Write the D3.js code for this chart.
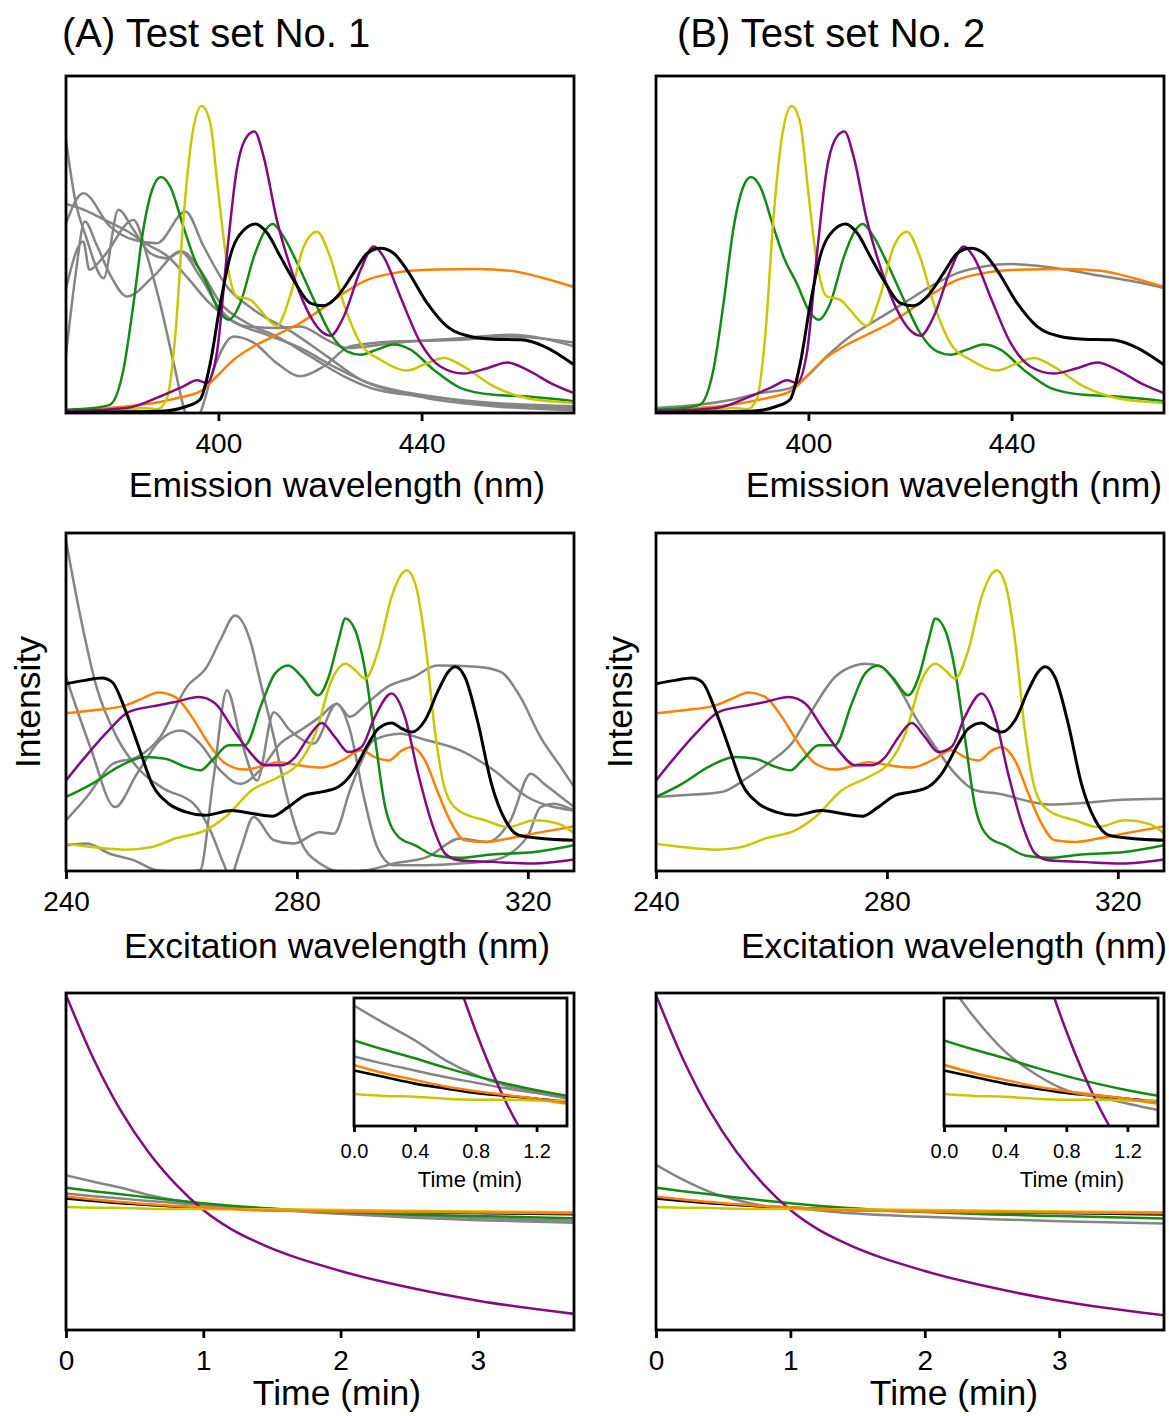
<!DOCTYPE html>
<html>
<head>
<meta charset="utf-8">
<script src="https://cdn.jsdelivr.net/npm/d3@7"></script>
<style>
body { margin: 0; background: #fff; }
text { font-family: "Liberation Sans", Arial, sans-serif; fill: #000; }
</style>
</head>
<body>
<svg width="1169" height="1416"></svg>
<script>
// emission spectra, [wavelength nm, intensity]
var emBlack = [[370,0.2],[388.5,0.5],[393.8,2.0],[396.4,4.0],[398.4,14.8],[400.4,32.6],[402.3,46.4],[405,54.3],[407.3,56.1],[409.6,53.4],[412.2,46.4],[414.8,39.5],[418.1,32.6],[420.7,31.8],[423.4,34.6],[426.6,41.5],[429.3,47.4],[431.9,48.9],[434.5,47.4],[437.1,42.5],[441.1,32.6],[445,25.7],[449.6,22.7],[454.2,21.9],[459.5,21.7],[464.1,19.8],[470,14.3]];
var emPurple = [[370,0.5],[382,1.5],[388.5,4.9],[393.1,7.9],[395.8,9.7],[397.7,8.9],[399.7,17.8],[401.7,47.4],[403.6,72.1],[405.6,82.0],[407.1,83.5],[408.9,76.1],[411.5,57.3],[414.8,40.5],[418.1,28.7],[420.7,23.7],[422,22.9],[424.7,28.7],[428,42.5],[430.6,49.4],[432.5,46.4],[435.8,34.6],[439.8,20.8],[443.7,13.8],[448.3,11.7],[452.9,13.3],[456.9,15.0],[460.8,12.8],[465.4,8.9],[470,5.9]];
var emGreen = [[370,1.0],[375.4,1.5],[378.7,2.5],[381.3,12.8],[383.3,32.6],[385.2,54.3],[387.2,67.2],[388.7,70.0],[390.5,67.2],[393.1,55.3],[395.1,46.4],[397.7,38.5],[400.4,29.6],[402,27.7],[404.3,32.6],[407,46.4],[408.9,53.4],[410.7,56.1],[412.8,52.4],[415.5,44.5],[418.8,33.6],[422,23.7],[425.3,18.3],[428,17.3],[431.2,18.8],[434.5,20.3],[437.8,18.8],[442.4,12.8],[447.7,7.4],[454.2,5.4],[460.8,4.9],[470,3.5]];
var emYellow = [[370,0.3],[380,0.5],[385,1.5],[388,1.2],[389.8,4.0],[391.5,22.7],[393.1,57.3],[394.8,82.0],[396.7,91.1],[398.4,86.0],[400,65.2],[401.7,44.5],[403.6,34.6],[406.3,33.6],[408.2,30.6],[411.5,25.9],[414.1,34.6],[416.8,49.4],[419.4,53.8],[422,46.2],[424.7,32.4],[428,20.6],[431.9,15.8],[437.1,12.6],[441.1,14.8],[444.4,16.3],[447.7,14.3],[454.2,7.9],[460.8,4.4],[470,3.0]];
var emOrange = [[370,0.5],[378.7,1.5],[385.2,2.5],[391.8,4.4],[396.4,6.4],[399.7,10.9],[403,15.8],[407,19.8],[411.5,23.2],[416.1,26.7],[420.1,30.6],[424.7,35.6],[429.3,39.5],[434.5,41.5],[441.1,42.5],[450.9,42.7],[457.5,42.2],[464.1,40.0],[470,37.4]];
var emGrayA1 = [[370,56.3],[373.4,65.2],[378.7,55.3],[383.3,51.4],[387.9,50.4],[393.5,59.8],[397.1,49.4],[401.7,37.5],[407,30.6],[414.8,23.7],[421.4,16.8],[428,9.9],[434.5,6.9],[444.4,4.4],[454.2,2.5],[470,1.5]];
var emGrayA2 = [[370,81],[371.8,63.2],[374,52],[377.4,40.0],[380.3,60.3],[383.3,54.3],[386.6,47.4],[389.8,45.9],[392.8,47.9],[396.4,42.5],[400.4,32.6],[405.6,26.7],[411.5,22.7],[418.1,16.8],[424.7,10.9],[431.2,6.9],[441.1,4.9],[454.2,3.0],[470,2.0]];
var emGrayA3 = [[370,37],[373.4,50.9],[374.6,42.5],[377.4,46.4],[383.3,57.3],[386,46.4],[388.5,32.6],[391.2,14.8],[393.5,0],[394.4,-3],[396.4,0],[399,12.8],[403,22.7],[407,20.8],[411.5,14.8],[416.1,10.9],[420.7,13.8],[426,19.8],[434.5,21.2],[447.7,21.7],[457.5,22.7],[470,20.9]];
var emGrayA4 = [[370,17.3],[371.8,40],[373.7,56.8],[376,50],[378.7,41],[382,34.6],[387.2,40.5],[392.5,47.9],[396.4,40.5],[400.4,30.6],[405.6,25.7],[411.5,25.2],[416.1,25.7],[421.4,21.7],[425.3,19.3],[434.5,20.8],[447.7,22.2],[457.5,23.2],[470,19.8]];
var emGrayA5 = [[370,62],[374,60],[378,57],[382,54],[386,50],[390,46.5],[394,40],[398,33],[403,27],[409.6,23.2],[416.1,19.3],[422.7,13.8],[431.2,7.9],[441.1,4.4],[454.2,2.0],[470,0.8]];
var emGrayB = [[370,1.5],[378.7,2.5],[385.2,4.0],[390.5,5.9],[396.4,7.4],[399.7,10.9],[403.6,16.8],[408.2,22.7],[413.5,27.7],[418.8,32.6],[424,37.5],[429.3,41.5],[434.5,43.5],[439.8,44.2],[445,43.7],[450.9,42.5],[457.5,40.7],[464.1,39.0],[470,37.1]];

// excitation spectra, [wavelength nm, intensity]
var exBlack = [[240,55.4],[243.3,56.4],[246.2,57.1],[248,55.9],[250.3,47.5],[252.6,36.7],[254.9,25.8],[257.8,19.9],[260.7,17.5],[264.1,16.5],[268.7,17.9],[272.2,17.0],[275.7,16.2],[278.5,18.9],[281.4,22.4],[284.3,23.4],[287.2,24.9],[289.5,28.8],[292.4,37.7],[294.1,42.1],[296.4,43.8],[298.2,42.1],[299.9,41.1],[302.2,44.6],[304.5,53.5],[306.2,58.9],[307.4,60.4],[309.1,57.4],[311.4,43.6],[313.7,25.8],[316.1,15.0],[318.4,10.6],[322.4,9.6],[328,9.1]];
var exOrange = [[240,46.7],[244.5,47.5],[250.3,49.0],[253.2,51.0],[256,52.8],[258.9,51.5],[261.8,45.6],[264.7,37.7],[267.6,31.8],[271,30.0],[274.5,31.3],[276.8,32.2],[280.3,31.3],[284.3,30.6],[287.8,32.7],[291.2,35.7],[293.5,33.7],[295.9,32.7],[298.2,35.7],[299.9,36.7],[302.2,32.7],[304.5,22.9],[306.8,14.0],[309.1,9.1],[312.6,8.6],[316.6,9.6],[322.4,11.5],[328,13.2]];
var exPurple = [[240,26.8],[243.3,33.7],[247.4,41.6],[250.8,47.0],[254.9,48.7],[258.9,50.0],[263,51.5],[265.9,49.5],[268.7,42.6],[271.6,35.7],[274.5,31.3],[277.4,31.3],[279.7,33.7],[282,39.6],[284.3,43.8],[286.6,39.6],[288.9,35.2],[291.2,36.7],[293.5,45.6],[296.4,52.5],[298.7,45.6],[301,28.8],[303.4,14.0],[305.7,5.1],[308,3.2],[313.7,2.7],[320.7,2.2],[328,3.4]];
var exGreen = [[240,21.9],[244.5,25.8],[249.1,30.8],[253.7,33.7],[257.2,33.2],[260.7,30.8],[263.3,29.8],[265.3,32.7],[268.2,37.2],[271,37.2],[273.9,49.5],[276.2,58.4],[278.5,60.8],[280.9,57.4],[283.7,52.0],[285.5,57.4],[287.2,68.2],[288.4,74.7],[290.1,71.2],[291.8,59.4],[293.5,39.6],[295.3,18.9],[297.6,10.1],[300.5,7.6],[303.9,4.6],[308,3.9],[313.7,4.9],[321.2,5.6],[328,7.6]];
var exYellow = [[240,8.1],[244.5,7.1],[250.3,6.3],[254.9,7.1],[258.9,9.6],[264.1,12.0],[267.6,16.0],[272.2,23.9],[276.8,27.8],[280.3,31.8],[283.2,40.6],[286,56.4],[288.4,61.3],[290.1,59.4],[291.8,56.9],[294.1,65.3],[296.4,81.1],[298.2,88.0],[299,89.0],[300.5,85.0],[302.2,68.2],[303.9,41.6],[305.7,23.9],[308,17.9],[312.6,15.0],[316.6,13.0],[321.2,15.0],[325.3,14.0],[328,11.2]];
var exGrayA1 = [[240,97.8],[242.4,76.1],[245.3,54.4],[248.8,39.6],[252.8,29.8],[256.9,24.4],[262.1,19.9],[265,12.0],[267.3,2.2],[268.4,-1.8],[270.2,6.1],[272.5,16.0],[276,9.1],[279.4,8.1],[284,11.5],[286.4,11.0],[289.2,23.9],[291,31.8],[293.3,38.7],[297.9,40.6],[302.5,38.7],[308.3,35.7],[314.1,29.8],[319.9,21.9],[328,17.9]];
var exGrayA2 = [[240,15.0],[243.6,21.9],[248.2,31.8],[252.3,33.7],[256.3,39.6],[260.9,54.4],[264.4,60.4],[266.7,68.2],[269.3,75.6],[271.9,68.2],[273.6,56.4],[276,39.6],[278.3,21.9],[280.6,9.1],[284,2.2],[288.1,-0.3],[292.1,0.2],[296.8,2.2],[302.5,4.1],[308.3,9.6],[312.9,8.6],[317,15.0],[320.5,28.8],[322.8,25.8],[328,18.9]];
var exGrayA3 = [[240,7.6],[243.6,8.1],[247.6,5.1],[251.7,3.2],[255.7,0.2],[259.8,-0.3],[263.2,0.2],[265.5,26.8],[267.9,53.5],[270.2,39.6],[273.1,26.8],[276,47.0],[278.8,41.6],[282.9,37.7],[286.9,49.5],[289.2,41.6],[291.6,21.9],[293.9,7.1],[296.8,1.7],[302.5,1.7],[308.3,2.2],[314.1,3.2],[319.9,10.1],[322.2,18.9],[324.5,19.9],[328,17.9]];
var exGrayA4 = [[240,57.4],[244.2,36.7],[248.5,18.9],[252.3,28.8],[256.3,38.7],[259.8,41.6],[263.2,37.7],[266.7,29.8],[270.2,25.8],[273.6,29.8],[277.1,37.7],[280.6,41.6],[284,45.6],[286.9,49.5],[289.2,45.6],[292.1,49.5],[295.6,54.4],[300.2,57.4],[304.3,60.8],[311.2,60.4],[315.3,58.9],[318.7,51.5],[322.2,39.6],[325.7,30.8],[328,24.9]];
var exGrayB = [[240,21.9],[244.5,22.4],[251.4,23.4],[256,27.8],[260.1,32.7],[263.5,37.7],[267,47.5],[271,57.4],[274.5,60.8],[276.2,61.3],[279.1,60.4],[282,54.4],[284.9,45.6],[288.4,36.7],[291.8,28.8],[295.3,23.9],[299.9,22.7],[303.9,20.9],[308,19.7],[313.7,20.1],[320.7,21.1],[328,21.4]];

// time courses (min)
var decayTime = [0, 0.2, 0.4, 0.6, 0.8, 1.0, 1.2, 1.4, 2.0, 2.5, 3.0, 3.8];
var decayBlack  = [39.0, 38.3, 37.6, 37.1, 36.6, 36.3, 36.0, 35.7, 35.2, 34.9, 34.7, 34.3];
var decayPurple = [99.4, 80.5, 65.0, 52.8, 43.2, 35.6, 30.0, 25.9, 17.5, 12.6, 8.7, 4.3];
var decayGreen  = [42.2, 41.2, 40.3, 39.3, 38.4, 37.6, 36.9, 36.3, 35.0, 34.3, 33.8, 33.1];
var decayYellow = [36.5, 36.3, 36.2, 36.0, 35.9, 35.9, 35.8, 35.8, 35.6, 35.4, 35.2, 34.9];
var decayOrange = [39.6, 38.7, 38.0, 37.3, 36.8, 36.4, 36.0, 35.5, 35.2, 35.0, 34.9, 34.6];
var decayGrayA1 = [45.9, 44.0, 42.2, 40.1, 38.5, 37.4, 36.7, 36.0, 34.5, 33.4, 32.6, 31.7];
var decayGrayA2 = [40.5, 39.7, 39.0, 38.3, 37.7, 37.1, 36.6, 36.1, 34.9, 34.0, 33.2, 32.3];
var decayGrayB  = [49.0, 44.6, 41.0, 38.6, 36.9, 36.2, 35.5, 34.8, 33.6, 32.9, 32.3, 31.6];

var emTicks = [400, 440];
var exTicks = [240, 280, 320];
var timeTicks = [0, 1, 2, 3];
var insetTicks = [0, 0.4, 0.8, 1.2];

var C = {black:"#000000", purple:"#820a82", green:"#138a13", yellow:"#c8c800", orange:"#ff8000", gray:"#858585"};

var svg = d3.select("svg");
var clipN = 0;

function tc(vals) { return decayTime.map(function(t,i){ return [t, vals[i]]; }); }

function s(data, color, w) { return {data:data, color:color, width:w || 2.5}; }

function drawPanel(o) {
  var x = d3.scaleLinear().domain(o.xDomain).range([o.left, o.right]);
  var y = d3.scaleLinear().domain(o.yDomain).range([o.bottom, o.top]);
  var g = svg.append("g");
  var id = "clip" + (clipN++);
  g.append("clipPath").attr("id", id).append("rect")
    .attr("x", o.left).attr("y", o.top)
    .attr("width", o.right - o.left).attr("height", o.bottom - o.top);
  g.append("rect")
    .attr("x", o.left).attr("y", o.top)
    .attr("width", o.right - o.left).attr("height", o.bottom - o.top)
    .attr("fill", "#fff");

  var line = d3.line()
    .x(function(d){ return x(d[0]); })
    .y(function(d){ return y(d[1]); })
    .curve(d3.curveMonotoneX);

  g.append("g").attr("clip-path", "url(#" + id + ")")
    .selectAll("path")
    .data(o.series)
    .enter().append("path")
    .attr("d", function(d){ return line(d.data); })
    .attr("fill", "none")
    .attr("stroke", function(d){ return d.color; })
    .attr("stroke-width", function(d){ return d.width; })
    .attr("stroke-linejoin", "round");

  g.append("rect")
    .attr("x", o.left).attr("y", o.top)
    .attr("width", o.right - o.left).attr("height", o.bottom - o.top)
    .attr("fill", "none").attr("stroke", "#000").attr("stroke-width", o.frame || 2.8);

  var ax = g.append("g").attr("transform", "translate(0," + o.bottom + ")")
    .call(d3.axisBottom(x).tickValues(o.ticks).tickSize(o.tickLen || 8).tickSizeOuter(0)
      .tickPadding(o.tickPad || 12).tickFormat(o.fmt || d3.format("d")));
  ax.select(".domain").remove();
  ax.selectAll(".tick line").attr("stroke", "#000").attr("stroke-width", 2.8);
  ax.selectAll(".tick text").attr("font-size", o.tickFont || 28).attr("fill", "#000")
    .style("font-family", "'Liberation Sans', Arial, sans-serif");

  if (o.label) {
    g.append("text").attr("x", o.labelX).attr("y", o.labelY)
      .attr("text-anchor", "middle").attr("font-size", o.labelFont || 35.5).text(o.label);
  }
}

function emSeries(grays) {
  return grays.map(function(d){ return s(d, C.gray); }).concat([
    s(emOrange, C.orange), s(emGreen, C.green), s(emYellow, C.yellow),
    s(emPurple, C.purple), s(emBlack, C.black, 3)]);
}
function exSeries(grays) {
  return grays.map(function(d){ return s(d, C.gray); }).concat([
    s(exOrange, C.orange), s(exGreen, C.green), s(exYellow, C.yellow),
    s(exPurple, C.purple), s(exBlack, C.black, 3)]);
}
function tcSeries(grays) {
  return [s(tc(decayBlack), C.black, 2.6)]
    .concat(grays.map(function(d){ return s(tc(d), C.gray); }))
    .concat([s(tc(decayGreen), C.green), s(tc(decayPurple), C.purple),
             s(tc(decayYellow), C.yellow), s(tc(decayOrange), C.orange)]);
}

var cols = [
  {left:66, right:574, title:"(A) Test set No. 1", titleX:62, labelX:337, ylabX:28, tEnd:3.7,
   inL:354, inR:567, inLabX:470,
   emG:[emGrayA1, emGrayA2, emGrayA3, emGrayA4, emGrayA5],
   exG:[exGrayA1, exGrayA2, exGrayA3, exGrayA4],
   tcG:[decayGrayA1, decayGrayA2]},
  {left:656, right:1164, title:"(B) Test set No. 2", titleX:677, labelX:954, ylabX:620, tEnd:3.78,
   inL:944, inR:1158, inLabX:1072,
   emG:[emGrayB], exG:[exGrayB], tcG:[decayGrayB]}
];

cols.forEach(function(c) {
  svg.append("text").attr("x", c.titleX).attr("y", 47).attr("font-size", 40).text(c.title);

  drawPanel({left:c.left, right:c.right, top:76, bottom:413, xDomain:[370,470], yDomain:[0,100],
    ticks:emTicks, series:emSeries(c.emG), label:"Emission wavelength (nm)", labelX:c.labelX, labelY:497});

  drawPanel({left:c.left, right:c.right, top:533, bottom:871, xDomain:[240,328], yDomain:[0,100],
    ticks:exTicks, series:exSeries(c.exG), label:"Excitation wavelength (nm)", labelX:c.labelX, labelY:958});

  svg.append("text").attr("transform", "translate(" + c.ylabX + ",702) rotate(-90)")
    .attr("text-anchor", "middle").attr("dy", "0.35em").attr("font-size", 35.5).text("Intensity");

  drawPanel({left:c.left, right:c.right, top:993, bottom:1330, xDomain:[0,c.tEnd], yDomain:[0,100],
    ticks:timeTicks, series:tcSeries(c.tcG), label:"Time (min)", labelX:c.labelX, labelY:1405});

  drawPanel({left:c.inL, right:c.inR, top:998, bottom:1126, xDomain:[0,1.4], yDomain:[33.1,46.7],
    ticks:insetTicks, series:tcSeries(c.tcG), fmt:d3.format(".1f"), tickLen:6, tickPad:12,
    tickFont:20, frame:2.8, label:"Time (min)", labelX:c.inLabX, labelY:1187, labelFont:22});
});
</script>
</body>
</html>
